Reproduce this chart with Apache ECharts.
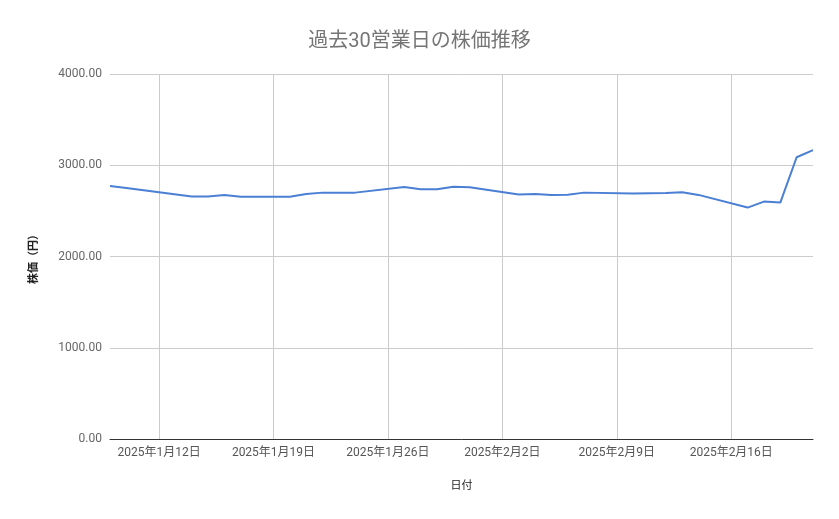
<!DOCTYPE html>
<html>
<head>
<meta charset="utf-8">
<script src="https://cdn.jsdelivr.net/npm/echarts@6/dist/echarts.min.js"></script>
<style>
html, body { margin: 0; padding: 0; background: #fff; }
#chart { width: 839px; height: 519px; }
</style>
</head>
<body>
<div id="chart"></div>
<script>
// 営業日と終値
var dates = [
    '2025-01-09', '2025-01-10', '2025-01-14', '2025-01-15', '2025-01-16', '2025-01-17',
    '2025-01-20', '2025-01-21', '2025-01-22', '2025-01-23', '2025-01-24',
    '2025-01-27', '2025-01-28', '2025-01-29', '2025-01-30', '2025-01-31',
    '2025-02-03', '2025-02-04', '2025-02-05', '2025-02-06', '2025-02-07',
    '2025-02-10', '2025-02-12', '2025-02-13', '2025-02-14',
    '2025-02-17', '2025-02-18', '2025-02-19', '2025-02-20', '2025-02-21'
];
var prices = [
    2772, 2750, 2658, 2658, 2675, 2656,
    2656, 2684, 2700, 2700, 2700,
    2762, 2736, 2736, 2765, 2760,
    2680, 2686, 2675, 2677, 2700,
    2690, 2697, 2705, 2675,
    2536, 2602, 2591, 3088, 3165
];
var tickDates = ['2025-01-12', '2025-01-19', '2025-01-26', '2025-02-02', '2025-02-09', '2025-02-16'];

var font = 'Roboto, "Noto Sans CJK JP", sans-serif';
var parse = function(s) { return echarts.number.parseDate(s).getTime(); };
var ticks = tickDates.map(parse);

var chart = echarts.init(document.getElementById('chart'));
chart.setOption({
    backgroundColor: '#fff',
    animation: false,
    textStyle: {fontFamily: font},
    title: {
        text: '過去30営業日の株価推移',
        left: 'center',
        top: 27,
        textStyle: {fontFamily: font, fontSize: 20, fontWeight: 'normal', color: '#757575'}
    },
    grid: {left: 110, right: 26, top: 74, bottom: 80},
    xAxis: {
        type: 'value',
        min: parse(dates[0]),
        max: parse(dates[dates.length - 1]),
        name: '日付',
        nameLocation: 'middle',
        nameGap: 42,
        nameTextStyle: {fontFamily: font, fontSize: 11, color: '#222'},
        axisLine: {show: true, lineStyle: {color: '#333', width: 1}},
        axisTick: {show: false, customValues: ticks},
        axisLabel: {
            customValues: ticks,
            fontFamily: font,
            fontSize: 12,
            color: '#555',
            margin: 8,
            formatter: function(v) {
                var d = new Date(v);
                return d.getFullYear() + '年' + (d.getMonth() + 1) + '月' + d.getDate() + '日';
            }
        },
        splitLine: {show: true, lineStyle: {color: '#ccc', width: 1}}
    },
    yAxis: {
        type: 'value',
        min: 0,
        max: 4000,
        interval: 1000,
        name: '株価（円）',
        nameLocation: 'middle',
        nameGap: 70,
        nameTextStyle: {fontFamily: font, fontSize: 11, color: '#222', fontWeight: 'bold'},
        axisLine: {show: false},
        axisTick: {show: false},
        axisLabel: {
            fontFamily: font,
            fontSize: 12,
            color: '#666',
            margin: 8,
            formatter: function(v) { return v.toFixed(2); }
        },
        splitLine: {lineStyle: {color: '#ccc', width: 1}}
    },
    series: [{
        type: 'line',
        data: dates.map(function(d, i) { return [parse(d), prices[i]]; }),
        showSymbol: false,
        symbol: 'none',
        lineStyle: {color: '#4a7fd4', width: 2},
        itemStyle: {color: '#4a7fd4'}
    }]
});
</script>
</body>
</html>
